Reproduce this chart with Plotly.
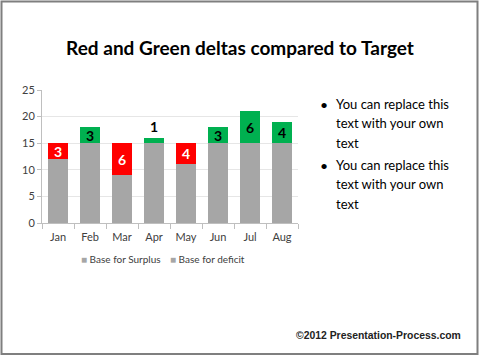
import plotly.graph_objects as go

months = ["Jan", "Feb", "Mar", "Apr", "May", "Jun", "Jul", "Aug"]
base_surplus = [0, 15, 0, 15, 0, 15, 15, 15]
base_deficit = [12, 0, 9, 0, 11, 0, 0, 0]
deficit = [3, 0, 6, 0, 4, 0, 0, 0]
surplus = [0, 3, 0, 1, 0, 3, 6, 4]
legend_names = ["Base for Surplus", "Base for deficit"]
bullet_lines = [["You can replace this", "text with your own", "text"],
                ["You can replace this", "text with your own", "text"]]

W, H = 480, 357
L, R, T, B = 42, 298, 90, 223  # plot area pixels


def px(x):
    return (x - L) / (R - L)


def py(y):
    return (B - y) / (B - T)


GRAY = "#A6A6A6"
LBL = dict(family="Lato, sans-serif", size=14)
fig = go.Figure()
fig.add_bar(x=months, y=base_surplus, name=legend_names[0], marker_color=GRAY, showlegend=False)
fig.add_bar(x=months, y=base_deficit, name=legend_names[1], marker_color=GRAY, showlegend=False)
fig.add_bar(x=months, y=deficit, name="Deficit", marker_color="#FF0000", showlegend=False,
            text=[str(v) if v else "" for v in deficit], textposition="inside",
            textangle=0, constraintext="none", insidetextanchor="middle",
            insidetextfont=dict(color="white", **LBL), texttemplate="<b>%{text}</b>")
fig.add_bar(x=months, y=surplus, name="Surplus", marker_color="#00B050", showlegend=False,
            text=[str(v) if v else "" for v in surplus],
            textposition=["outside" if v < 2 else "inside" for v in surplus],
            textangle=0, constraintext="none", insidetextanchor="middle",
            insidetextfont=dict(color="black", **LBL),
            outsidetextfont=dict(color="black", **LBL), texttemplate="<b>%{text}</b>",
            cliponaxis=False)

for tr in fig.data:
    tr.marker.line.width = 0

fig.update_layout(
    width=W, height=H,
    margin=dict(l=L, r=W - R, t=T, b=H - B),
    barmode="stack", bargap=0.4,
    plot_bgcolor="white", paper_bgcolor="white",
    font=dict(family="Lato, Open Sans, sans-serif", color="#404040", size=11),
    title=dict(text="<b>Red and Green deltas compared to Target</b>", x=0.5, xref="container",
               xanchor="center", y=1 - 48 / H, yref="container", yanchor="middle",
               font=dict(family="Liberation Sans Narrow, Lato, sans-serif",
                         size=19, color="black")),
    showlegend=False,
)
fig.update_yaxes(range=[0, 25], dtick=5, showgrid=True, gridcolor="#E6E6E6",
                 showline=True, linecolor="#BFBFBF", ticks="outside", ticklen=4,
                 tickcolor="#BFBFBF", zeroline=False, tickfont=dict(size=11, color="#404040"))
fig.update_xaxes(showline=True, linecolor="#BFBFBF", ticks="outside", ticklen=5,
                 tickcolor="#BFBFBF", tickson="boundaries", range=[-0.5, 7.5],
                 ticklabelstandoff=4, tickfont=dict(size=11, color="#404040"))

# legend drawn as text entries with gray square markers
for name, xpos in zip(legend_names, [79, 168]):
    fig.add_annotation(xref="paper", yref="paper", x=px(xpos), y=py(259),
                       text=f"<span style='color:{GRAY}'>■</span> {name}",
                       showarrow=False, xanchor="left", yanchor="middle",
                       font=dict(family="Lato", size=10, color="#404040"))

for i, lines in enumerate(bullet_lines):
    y0 = 104 + i * 61
    fig.add_annotation(xref="paper", yref="paper", x=px(318), y=py(y0), text="•",
                       showarrow=False, xanchor="left", yanchor="middle",
                       font=dict(family="Lato", size=14, color="black"))
    for j, line in enumerate(lines):
        fig.add_annotation(xref="paper", yref="paper", x=px(334), y=py(y0 + j * 19.3), text=line,
                           showarrow=False, xanchor="left", yanchor="middle", align="left",
                           font=dict(family="Lato", size=13, color="black"))

fig.add_annotation(xref="paper", yref="paper", x=px(463), y=py(335), text="<b>©2012 Presentation-Process.com</b>",
                   showarrow=False, xanchor="right", yanchor="middle",
                   font=dict(family="Liberation Sans, Arial", size=10.4, color="#222222"))

fig.add_shape(type="rect", xref="paper", yref="paper", x0=px(1.5), x1=px(477.5),
              y0=py(354), y1=py(1.5), line=dict(color="#7F7F7F", width=2), layer="above")

fig.write_html("out.html", config={"displayModeBar": False},
               post_script="document.body.style.margin='0';")
